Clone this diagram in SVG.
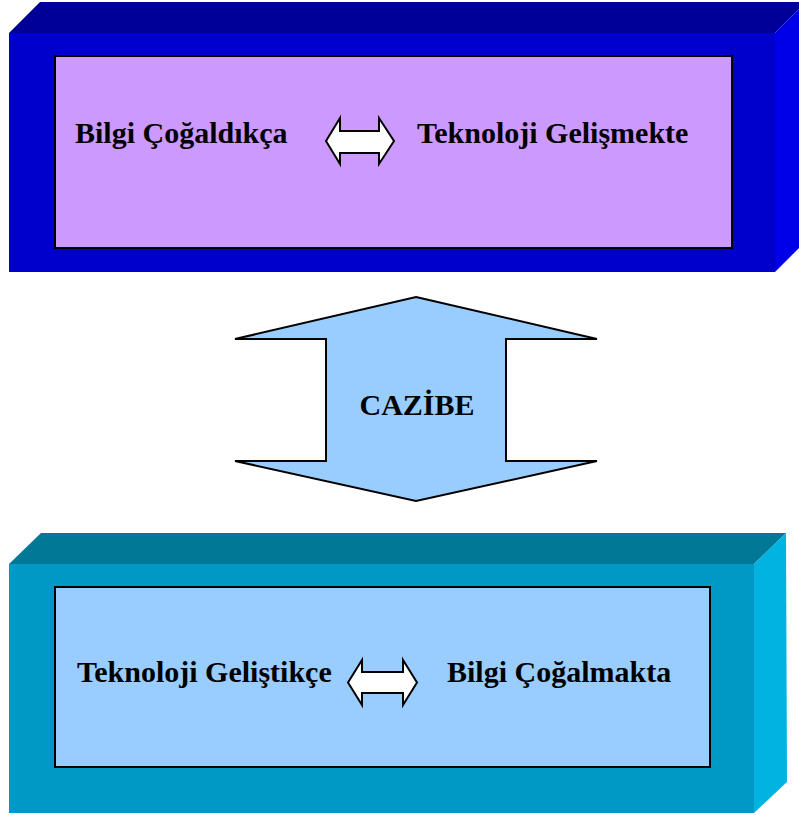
<svg xmlns="http://www.w3.org/2000/svg" width="799" height="815" viewBox="0 0 799 815">
  <style>
    .label { font-family: "Liberation Serif", "Times New Roman", serif; font-weight: bold; font-size: 30px; fill: #000; }
    .inner { stroke: #000; stroke-width: 2; }
    .dbl { fill: #fff; stroke: #000; stroke-width: 2; stroke-linejoin: miter; }
  </style>
  <rect width="799" height="815" fill="#fff"/>

  <!-- Upper block: 3D box with lilac panel -->
  <g id="box-top">
    <polygon points="9,33 40,2 806,2 775,33" fill="#000099"/>
    <polygon points="775,33 806,2 806,241 775,272" fill="#0000E8"/>
    <rect x="9" y="33" width="766" height="239" fill="#0000CC"/>
    <rect class="inner" x="55" y="56" width="677" height="192" fill="#CC99FF"/>
    <text class="label" x="75" y="143">Bilgi Çoğaldıkça</text>
    <polygon class="dbl" points="326,141 340,118 340,131 379,131 379,118 394,141 379,164 379,153 340,153 340,164"/>
    <text class="label" x="417" y="143">Teknoloji Gelişmekte</text>
  </g>

  <!-- Central two-way arrow -->
  <g id="connectors">
    <g id="cazibe">
      <polygon points="416,297 597,339 506,339 506,461 597,461 416,501 235,461 326,461 326,339 235,339" fill="#99CCFF" stroke="#000" stroke-width="2"/>
      <text class="label" x="417" y="415" text-anchor="middle">CAZİBE</text>
    </g>
  </g>

  <!-- Lower block: 3D box with light-blue panel -->
  <g id="box-bottom">
    <polygon points="9,564 41,533 786,533 754,564" fill="#007896"/>
    <polygon points="754,564 786,533 787,782 754,813" fill="#00B3E0"/>
    <rect x="9" y="564" width="745" height="249" fill="#0099C6"/>
    <rect class="inner" x="55" y="587" width="655" height="180" fill="#99CCFF"/>
    <text class="label" x="77" y="682">Teknoloji Geliştikçe</text>
    <polygon class="dbl" points="348,682.5 362,660 362,672 403,672 403,660 417,682.5 403,705 403,693 362,693 362,705"/>
    <text class="label" x="447" y="682">Bilgi Çoğalmakta</text>
  </g>
</svg>
